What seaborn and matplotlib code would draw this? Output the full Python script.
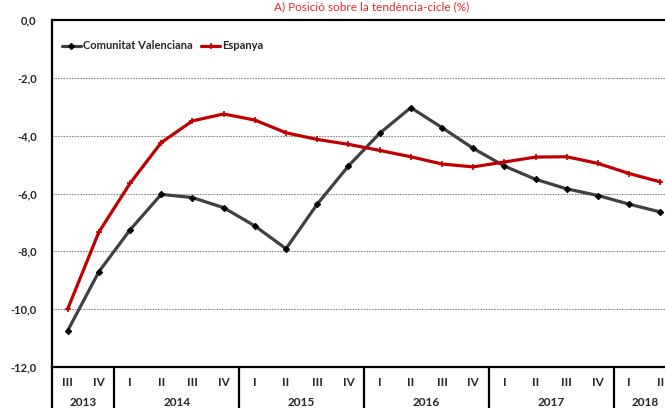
import matplotlib
matplotlib.use("Agg")
import matplotlib.pyplot as plt
import matplotlib.transforms as mtransforms
import pandas as pd
import seaborn as sns

# quarters III-2013 .. II-2018
quarters = ["III", "IV",
            "I", "II", "III", "IV",
            "I", "II", "III", "IV",
            "I", "II", "III", "IV",
            "I", "II", "III", "IV",
            "I", "II"]
years = ["2013", "2014", "2015", "2016", "2017", "2018"]
quarters_per_year = [2, 4, 4, 4, 4, 2]

comunitat_valenciana = [-10.75, -8.71, -7.26, -6.03, -6.14, -6.49, -7.12, -7.91, -6.37, -5.05,
                        -3.92, -3.03, -3.72, -4.44, -5.05, -5.51, -5.84, -6.07, -6.37, -6.64]
espanya = [-10.0, -7.34, -5.65, -4.24, -3.49, -3.25, -3.46, -3.90, -4.13, -4.30,
           -4.51, -4.73, -4.98, -5.08, -4.91, -4.74, -4.73, -4.96, -5.31, -5.60]

yticks = [0, -2, -4, -6, -8, -10, -12]
title = "A) Posició sobre la tendència-cicle (%)"

sns.set_style("white")
plt.rcParams["font.family"] = ["Lato", "DejaVu Sans"]

pos = list(range(len(quarters)))
df = pd.DataFrame({
    "pos": pos * 2,
    "valor": comunitat_valenciana + espanya,
    "serie": ["Comunitat Valenciana"] * len(pos) + ["Espanya"] * len(pos),
})

fig = plt.figure(figsize=(6.65, 4.08), dpi=100)
ax = fig.add_axes([52 / 665, 1 - 367 / 408, 624 / 665, 347 / 408])

sns.lineplot(data=df[df.serie == "Comunitat Valenciana"], x="pos", y="valor", ax=ax,
             color="#404040", lw=2.3, marker="D", markersize=3.2,
             markerfacecolor="black", markeredgecolor="black",
             label="Comunitat Valenciana", zorder=3)
sns.lineplot(data=df[df.serie == "Espanya"], x="pos", y="valor", ax=ax,
             color="#C00000", lw=2.3, marker="+", markersize=4.5, markeredgewidth=1.2,
             markeredgecolor="#C00000", label="Espanya", zorder=4)

ax.set_xlim(-0.5, len(quarters) - 0.5)
ax.set_ylim(-12, 0)
ax.set_yticks(yticks)
ax.set_yticklabels([f"{v:.1f}".replace(".", ",") for v in yticks],
                   fontsize=8, fontweight="bold")
ax.tick_params(axis="y", length=0, pad=11)
ax.set_xticks([])
ax.set_xlabel("")
ax.set_ylabel("")

for v in yticks[1:-1]:
    ax.axhline(v, color="#8c8c8c", lw=0.8, ls=(0, (1.5, 1)), zorder=1)

for side in ["left", "bottom", "top", "right"]:
    ax.spines[side].set_visible(True)
    ax.spines[side].set_color("black")
    ax.spines[side].set_linewidth(1.6)

# category axis: quarters and years
trans = mtransforms.blended_transform_factory(ax.transData, ax.transAxes)
for i, q in enumerate(quarters):
    ax.text(i, -16 / 347, q, transform=trans, ha="center", va="center",
            fontsize=8.5, fontweight="bold")
start = 0
bounds = [-0.5]
for y, n in zip(years, quarters_per_year):
    ax.text(start + (n - 1) / 2, -36 / 347, y, transform=trans, ha="center",
            va="center", fontsize=8.5, fontweight="bold")
    start += n
    bounds.append(start - 0.5)
for b in bounds[:-1]:
    ax.plot([b, b], [0, -50 / 347], transform=trans, color="black", lw=1.6,
            clip_on=False)

leg = ax.legend(loc="upper left", bbox_to_anchor=(0.0, 0.97), ncol=2, frameon=False,
                handlelength=1.7, handletextpad=0.15, columnspacing=0.8,
                prop={"weight": "bold", "size": 8})

fig.text(372 / 665, 1 - 1 / 408, title, ha="center", va="top",
         color="#E8272A", fontsize=8.5)

fig.savefig("out.png", dpi=100)
